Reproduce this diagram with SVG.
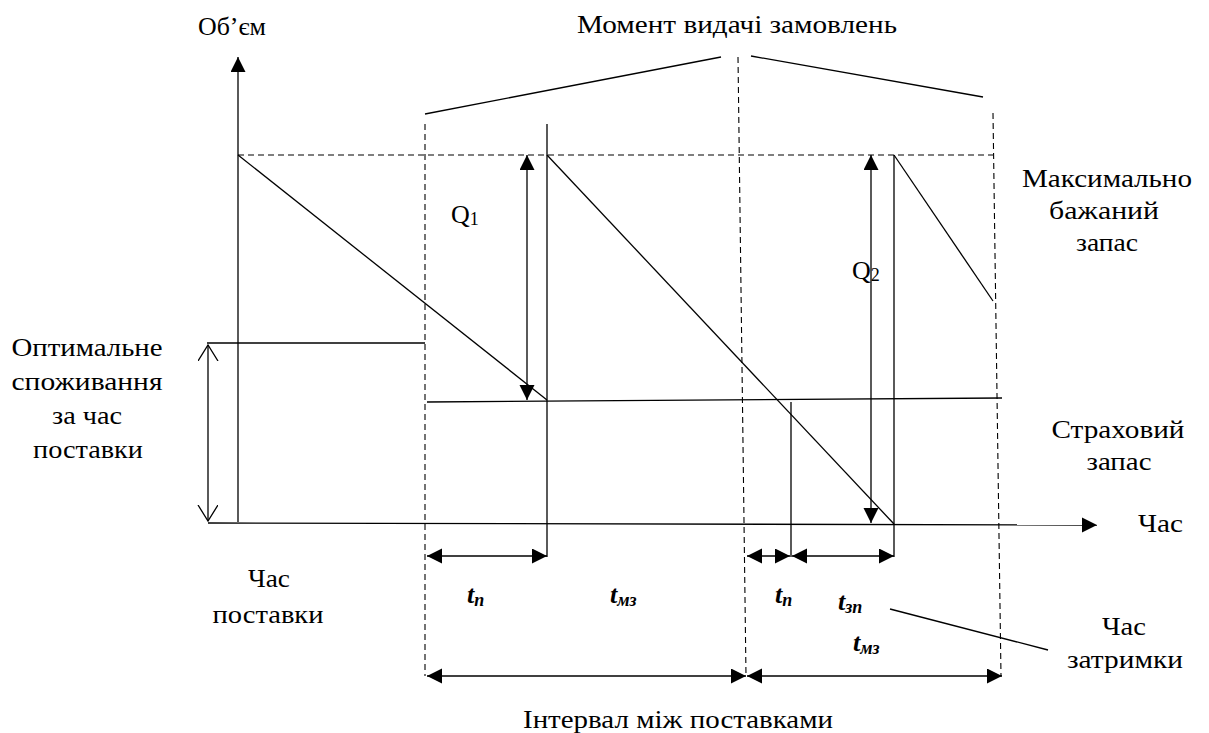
<svg xmlns="http://www.w3.org/2000/svg" width="1209" height="733" viewBox="0 0 1209 733">
<defs>
<style>
.ln{stroke:#000;stroke-width:1.3;fill:none}
.ds{stroke:#000;stroke-width:1.1;fill:none;stroke-dasharray:6 4}
text{font-family:'Liberation Serif','Times New Roman','DejaVu Serif',serif;font-size:25px;fill:#000}
.ti{font-style:italic;font-weight:bold;font-size:26px}
.sub{font-size:18px}
.m{text-anchor:middle}
</style>
<marker id="tri" markerUnits="userSpaceOnUse" markerWidth="16" markerHeight="16" refX="15" refY="7.5" orient="auto-start-reverse" viewBox="0 0 16 16">
<path d="M0,0 L15,7.5 L0,15 Z" fill="#000"/>
</marker>
<marker id="open" markerUnits="userSpaceOnUse" markerWidth="18" markerHeight="22" refX="16" refY="10" orient="auto-start-reverse" viewBox="0 0 18 22">
<path d="M0,0 L16,10 L0,20" fill="none" stroke="#000" stroke-width="1.3"/>
</marker>
</defs>

<g id="axes">
<line class="ln" x1="238" y1="522" x2="238" y2="57" marker-end="url(#tri)"/>
<line class="ln" x1="208" y1="523" x2="1097" y2="525" marker-end="url(#tri)"/>
</g>

<g id="guides">
<line class="ds" x1="238" y1="155" x2="993" y2="155"/>
<line class="ds" x1="425" y1="124" x2="425" y2="676"/>
<line class="ds" x1="738" y1="57" x2="746" y2="676"/>
<line class="ds" x1="993" y1="113" x2="1001" y2="676"/>
</g>

<g id="stock-curve">
<line class="ln" x1="238" y1="155" x2="547" y2="400"/>
<line class="ln" x1="547" y1="124" x2="547" y2="557"/>
<line class="ln" x1="547" y1="155" x2="894" y2="524"/>
<line class="ln" x1="894" y1="155" x2="894" y2="557"/>
<line class="ln" x1="894" y1="155" x2="993" y2="301"/>
<line class="ln" x1="791" y1="402" x2="791" y2="557"/>
<line class="ln" x1="427" y1="402" x2="1002" y2="398"/>
<line class="ln" x1="207" y1="343" x2="425" y2="343"/>
</g>

<g id="connectors">
<line class="ln" x1="425" y1="114" x2="721" y2="57"/>
<line class="ln" x1="751" y1="56" x2="983" y2="97"/>
<line class="ln" x1="208" y1="345" x2="208" y2="521" marker-start="url(#open)" marker-end="url(#open)"/>
<line class="ln" x1="527" y1="155" x2="527" y2="400" marker-start="url(#tri)" marker-end="url(#tri)"/>
<line class="ln" x1="871" y1="155" x2="871" y2="523" marker-start="url(#tri)" marker-end="url(#tri)"/>
<line class="ln" x1="427" y1="556" x2="547" y2="556" marker-start="url(#tri)" marker-end="url(#tri)"/>
<line class="ln" x1="747" y1="556" x2="790" y2="556" marker-start="url(#tri)" marker-end="url(#tri)"/>
<line class="ln" x1="792" y1="556" x2="894" y2="556" marker-start="url(#tri)" marker-end="url(#tri)"/>
<line class="ln" x1="427" y1="676" x2="746" y2="676" marker-start="url(#tri)" marker-end="url(#tri)"/>
<line class="ln" x1="747" y1="676" x2="1002" y2="676" marker-start="url(#tri)" marker-end="url(#tri)"/>
<line class="ln" x1="890" y1="609" x2="1048" y2="650"/>
</g>

<g id="label-volume"><text x="198" y="35" textLength="68" lengthAdjust="spacingAndGlyphs">Об’єм</text></g>
<g id="label-moment"><text class="m" x="737" y="33" textLength="320" lengthAdjust="spacingAndGlyphs">Момент видачі замовлень</text></g>
<g id="label-max"><text class="m" x="1107" y="187" textLength="170" lengthAdjust="spacingAndGlyphs">Максимально</text><text class="m" x="1104" y="219" textLength="110" lengthAdjust="spacingAndGlyphs">бажаний</text><text class="m" x="1107" y="251" textLength="62" lengthAdjust="spacingAndGlyphs">запас</text></g>
<g id="label-optimal"><text class="m" x="87" y="356" textLength="151" lengthAdjust="spacingAndGlyphs">Оптимальне</text><text class="m" x="87" y="390" textLength="151" lengthAdjust="spacingAndGlyphs">споживання</text><text class="m" x="87" y="424" textLength="70" lengthAdjust="spacingAndGlyphs">за час</text><text class="m" x="88" y="458" textLength="110" lengthAdjust="spacingAndGlyphs">поставки</text></g>
<g id="label-safety"><text class="m" x="1118" y="438" textLength="133" lengthAdjust="spacingAndGlyphs">Страховий</text><text class="m" x="1119" y="470" textLength="65" lengthAdjust="spacingAndGlyphs">запас</text></g>
<g id="label-time"><text x="1138" y="532" textLength="45" lengthAdjust="spacingAndGlyphs">Час</text></g>
<g id="label-delay"><text class="m" x="1124" y="635" textLength="44" lengthAdjust="spacingAndGlyphs">Час</text><text class="m" x="1125" y="668" textLength="116" lengthAdjust="spacingAndGlyphs">затримки</text></g>
<g id="label-delivery"><text class="m" x="269" y="587" textLength="42" lengthAdjust="spacingAndGlyphs">Час</text><text class="m" x="268" y="623" textLength="111" lengthAdjust="spacingAndGlyphs">поставки</text></g>
<g id="label-interval"><text class="m" x="678" y="728" textLength="310" lengthAdjust="spacingAndGlyphs">Інтервал між поставками</text></g>
<g id="label-q1"><text x="451" y="223" style="font-size:26px">Q<tspan class="sub" dy="2">1</tspan></text></g>
<g id="label-q2"><text x="852" y="279" style="font-size:26px">Q<tspan class="sub" dy="2">2</tspan></text></g>
<g id="label-tn1"><text class="ti" x="467" y="603">t<tspan class="sub" dy="3">п</tspan></text></g>
<g id="label-tmz1"><text class="ti" x="610" y="603">t<tspan class="sub" dy="3">мз</tspan></text></g>
<g id="label-tn2"><text class="ti" x="775" y="603">t<tspan class="sub" dy="3">п</tspan></text></g>
<g id="label-tzp"><text class="ti" x="838" y="610">t<tspan class="sub" dy="3">зп</tspan></text></g>
<g id="label-tmz2"><text class="ti" x="853" y="651">t<tspan class="sub" dy="3">мз</tspan></text></g>
</svg>
